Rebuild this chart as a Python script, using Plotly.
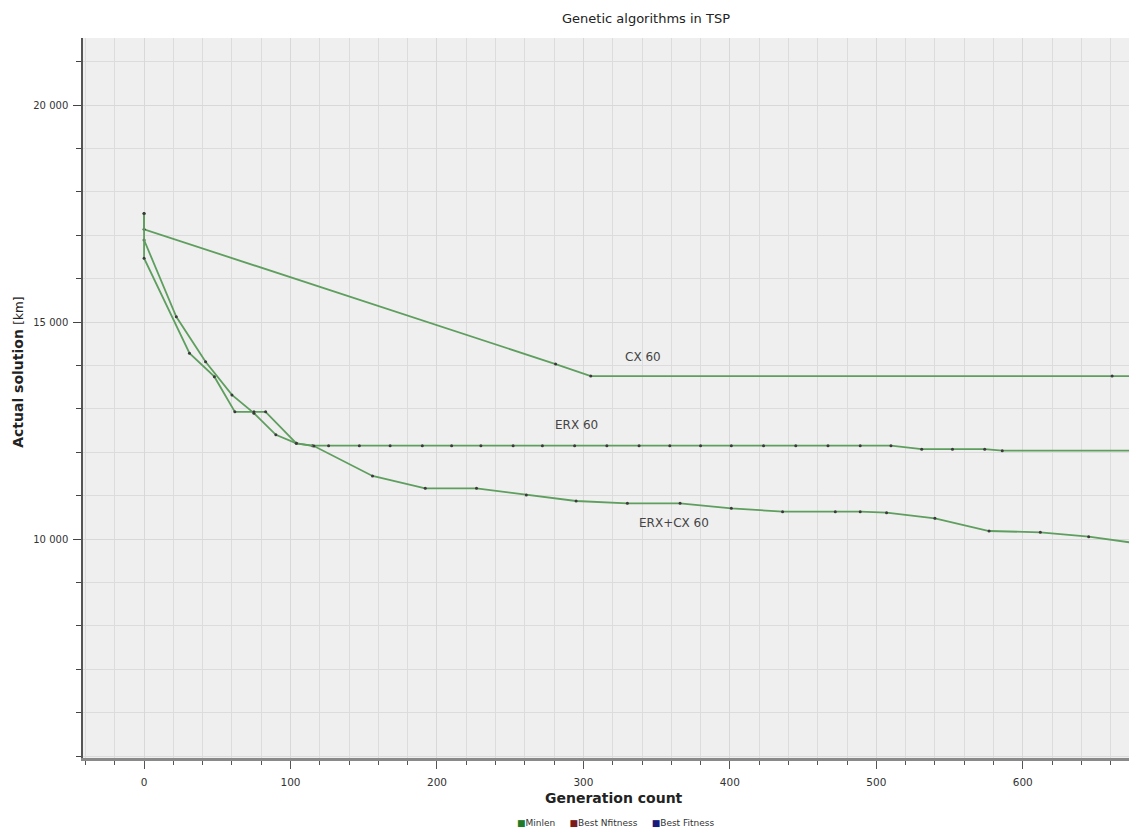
import plotly.graph_objects as go

# ---- data ----
cx_gen = [0, 0, 281, 305, 661, 700]
cx_val = [17500, 17136, 14030, 13755, 13755, 13755]

erx_gen = [0, 22, 42, 60, 75, 90, 104, 115, 126, 147, 168, 190, 210, 230, 252,
           272, 294, 316, 338, 359, 380, 401, 423, 445, 467, 489, 510, 531, 552,
           574, 586, 700]
erx_val = [16890, 15120, 14085, 13320, 12900, 12400, 12205, 12150, 12150, 12150,
           12150, 12150, 12150, 12150, 12150, 12150, 12150, 12150, 12150, 12150,
           12150, 12150, 12150, 12150, 12150, 12150, 12150, 12070, 12070, 12070,
           12035, 12035]

erxcx_gen = [0, 0, 31, 48, 62, 75, 83, 104, 116, 156, 192, 227, 261, 295, 330,
             366, 401, 436, 472, 489, 507, 540, 577, 612, 645, 680]
erxcx_val = [17500, 16470, 14280, 13740, 12930, 12930, 12930, 12205, 12143,
             11452, 11168, 11168, 11014, 10876, 10822, 10822, 10707, 10630,
             10630, 10630, 10607, 10476, 10184, 10154, 10053, 9890]

series_labels = ["CX 60", "ERX 60", "ERX+CX 60"]
label_pos_gen = [341, 295, 362]
label_pos_val = [14200, 12630, 10360]

y_tickvals = [10000, 15000, 20000]
y_ticktext = ["10 000", "15 000", "20 000"]
x_tickvals = [0, 100, 200, 300, 400, 500, 600]

legend_names = ["Minlen", "Best Nfitness", "Best Fitness"]
legend_colors = ["#1f7a2a", "#7a1a1a", "#1a1a7a"]

LINE_COLOR = "#5e9e5e"
MARK_COLOR = "#3a3a3a"
FONT = "DejaVu Sans"

# page has an 8px body margin -> figure is 8px smaller than the window
W, H = 1129, 822
L, T, B = 75, 30, 72
PW, PH = W - L, H - T - B   # 1054 x 720

fig = go.Figure()
for gx, gy in [(cx_gen, cx_val), (erx_gen, erx_val), (erxcx_gen, erxcx_val)]:
    fig.add_trace(go.Scatter(
        x=gx, y=gy, mode="lines+markers",
        line=dict(color=LINE_COLOR, width=1.8),
        marker=dict(color=MARK_COLOR, size=3),
        showlegend=False, hoverinfo="skip"))

for txt, gx, gy in zip(series_labels, label_pos_gen, label_pos_val):
    fig.add_annotation(x=gx, y=gy, text=txt, showarrow=False,
                       font=dict(family=FONT, size=12, color="#444"))

# axis titles
fig.add_annotation(xref="paper", yref="paper", x=-65 / PW, y=0.535,
                   xanchor="center", yanchor="middle",
                   text="<b>Actual solution</b> <span style='font-size:12px'>[km]</span>",
                   textangle=-90, showarrow=False,
                   font=dict(family=FONT, size=14, color="#222"))
fig.add_annotation(xref="paper", yref="paper", x=0.504, y=-40 / PH,
                   xanchor="center", yanchor="middle",
                   text="<b>Generation count</b>", showarrow=False,
                   font=dict(family=FONT, size=14, color="#222"))

# legend (colour squares + names)
legend_text = "&nbsp;&nbsp;&nbsp;&nbsp;&nbsp;".join(
    f"<span style='color:{c}'>■</span>{n}"
    for n, c in zip(legend_names, legend_colors))
fig.add_annotation(xref="paper", yref="paper", x=0.505, y=-65 / PH,
                   xanchor="center", yanchor="middle", text=legend_text,
                   showarrow=False, font=dict(family=FONT, size=9, color="#333"))

fig.update_layout(
    width=W, height=H,
    margin=dict(l=L, r=0, t=T, b=B, pad=0),
    paper_bgcolor="white", plot_bgcolor="#efefef",
    title=dict(text="Genetic algorithms in TSP", x=638 / W, xanchor="center",
               y=1 - 10 / H, yanchor="middle",
               font=dict(family=FONT, size=13, color="#222")),
    font=dict(family=FONT, size=10, color="#333"),
    showlegend=False,
)

fig.update_xaxes(
    range=[-41.7, 678.0], tickmode="array", tickvals=x_tickvals,
    ticks="outside", ticklen=8, tickcolor="#555", tickwidth=1,
    ticklabelstandoff=5,
    showline=True, linecolor="#8a8a8a", linewidth=2.5,
    showgrid=True, gridcolor="#d8d8d8", gridwidth=1, zeroline=False,
    minor=dict(tickmode="linear", tick0=0, dtick=20, ticks="outside", ticklen=4,
               tickcolor="#555", showgrid=True, gridcolor="#dcdcdc", gridwidth=1),
    tickfont=dict(family=FONT, size=10.5, color="#333"),
)
fig.update_yaxes(
    range=[4954, 21544], tickmode="array", tickvals=y_tickvals, ticktext=y_ticktext,
    ticks="outside", ticklen=8, tickcolor="#444", tickwidth=1,
    ticklabelstandoff=3,
    showline=True, linecolor="#555", linewidth=1.5,
    showgrid=True, gridcolor="#d8d8d8", gridwidth=1, zeroline=False,
    minor=dict(tickmode="linear", tick0=0, dtick=1000, ticks="outside", ticklen=5,
               tickcolor="#444", showgrid=True, gridcolor="#dcdcdc", gridwidth=1),
    tickfont=dict(family=FONT, size=10, color="#333"),
)

fig.write_html("out.html")
